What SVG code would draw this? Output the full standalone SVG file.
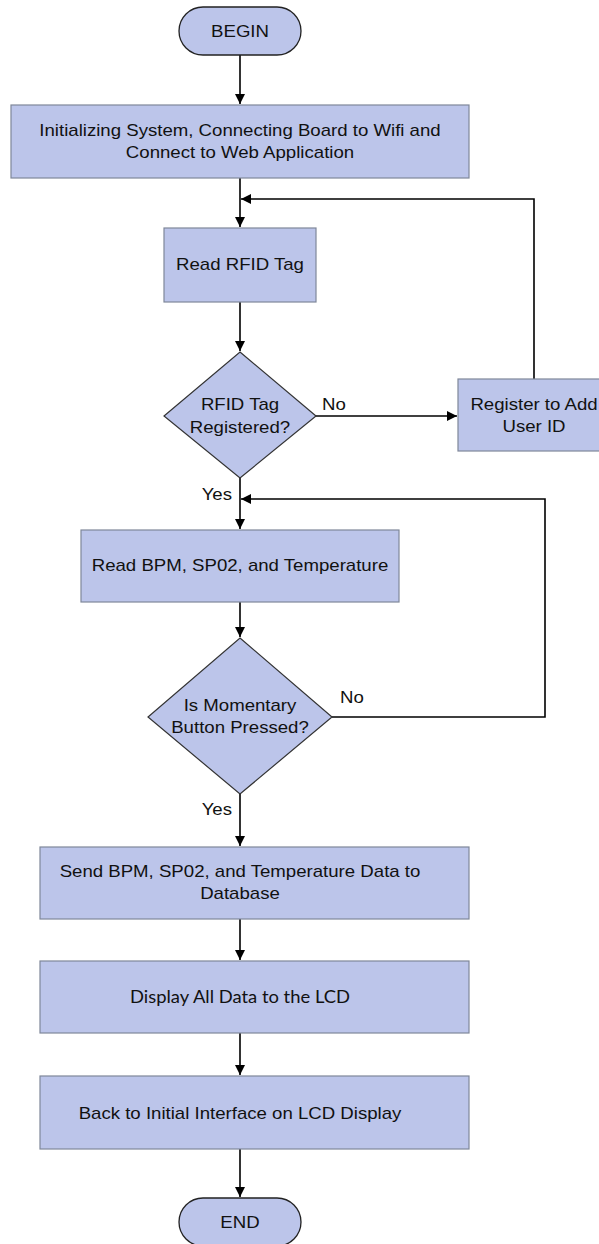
<svg xmlns="http://www.w3.org/2000/svg" width="599" height="1244" viewBox="0 0 599 1244">
<defs>
<marker id="arr" markerUnits="userSpaceOnUse" markerWidth="11" markerHeight="11" refX="10" refY="5" orient="auto">
<path d="M0,0 L10,5 L0,10 z" fill="#000"/>
</marker>
<style>
.box{fill:#BCC5EA;stroke:#7F8799;stroke-width:1.2}
.term{fill:#BCC5EA;stroke:#222;stroke-width:1.3}
.dia{fill:#BCC5EA;stroke:#333;stroke-width:1.2}
.t{font-family:"Liberation Sans",Arial,sans-serif;font-size:16.2px;fill:#111;text-anchor:middle}
.l{font-family:"Liberation Sans",Arial,sans-serif;font-size:16.2px;fill:#111}
.c{stroke:#000;stroke-width:1.6;fill:none}
.a{marker-end:url(#arr)}
</style>
</defs>
<rect width="599" height="1244" fill="#fff"/>
<g id="connectors">
<path class="c a" d="M240,55 V104"/>
<path class="c a" d="M240,178 V227"/>
<path class="c a" d="M240,302 V351"/>
<path class="c a" d="M316,416 H457"/>
<path class="c a" d="M534,379 V199 H241"/>
<path class="c a" d="M240,478 V529"/>
<path class="c a" d="M332,717 H545 V499 H241"/>
<path class="c a" d="M240,602 V637"/>
<path class="c a" d="M240,794 V846"/>
<path class="c a" d="M240,919 V960"/>
<path class="c a" d="M240,1033 V1075"/>
<path class="c a" d="M240,1149 V1197"/>
</g>
<g id="labels">
<text class="l" transform="translate(322,410) scale(1.15,1)">No</text>
<text class="l" transform="translate(232,500) scale(1.15,1)" text-anchor="end">Yes</text>
<text class="l" transform="translate(340,703) scale(1.15,1)">No</text>
<text class="l" transform="translate(232,815) scale(1.15,1)" text-anchor="end">Yes</text>
</g>
<g id="begin">
<rect class="term" x="179" y="7" width="122" height="48" rx="24"/>
<text class="t" transform="translate(240,37) scale(1.15,1)">BEGIN</text>
</g>
<g id="init">
<rect class="box" x="11" y="105" width="458" height="73"/>
<text class="t" transform="translate(240,136) scale(1.15,1)">Initializing System, Connecting Board to Wifi and</text>
<text class="t" transform="translate(240,158) scale(1.15,1)">Connect to Web Application</text>
</g>
<g id="readRFID">
<rect class="box" x="164" y="228" width="152" height="74"/>
<text class="t" transform="translate(240,270) scale(1.15,1)">Read RFID Tag</text>
</g>
<g id="rfidRegistered">
<polygon class="dia" points="240,352 316,416 240,478 164,416"/>
<text class="t" transform="translate(240,410) scale(1.15,1)">RFID Tag</text>
<text class="t" transform="translate(240,433) scale(1.15,1)">Registered?</text>
</g>
<g id="register">
<rect class="box" x="458" y="379" width="150" height="72"/>
<text class="t" transform="translate(534,410) scale(1.15,1)">Register to Add</text>
<text class="t" transform="translate(534,432) scale(1.15,1)">User ID</text>
</g>
<g id="readBPM">
<rect class="box" x="81" y="530" width="318" height="72"/>
<text class="t" transform="translate(240,571) scale(1.15,1)">Read BPM, SP02, and Temperature</text>
</g>
<g id="buttonPressed">
<polygon class="dia" points="240,638 332,717 240,794 148,717"/>
<text class="t" transform="translate(240,711) scale(1.15,1)">Is Momentary</text>
<text class="t" transform="translate(240,733) scale(1.15,1)">Button Pressed?</text>
</g>
<g id="send">
<rect class="box" x="40" y="847" width="429" height="72"/>
<text class="t" transform="translate(240,877) scale(1.15,1)">Send BPM, SP02, and Temperature Data to</text>
<text class="t" transform="translate(240,899) scale(1.15,1)">Database</text>
</g>
<g id="display">
<rect class="box" x="40" y="961" width="429" height="72"/>
<text x="240" y="1003" font-family="Lato,'Open Sans',sans-serif" font-size="17.5" fill="#111" text-anchor="middle" textLength="220" lengthAdjust="spacingAndGlyphs">Display All Data to the LCD</text>
</g>
<g id="back">
<rect class="box" x="40" y="1076" width="429" height="73"/>
<text class="t" transform="translate(240,1119) scale(1.15,1)">Back to Initial Interface on LCD Display</text>
</g>
<g id="end">
<rect class="term" x="179" y="1198" width="122" height="48" rx="24"/>
<text class="t" transform="translate(240,1228) scale(1.15,1)">END</text>
</g>
</svg>
